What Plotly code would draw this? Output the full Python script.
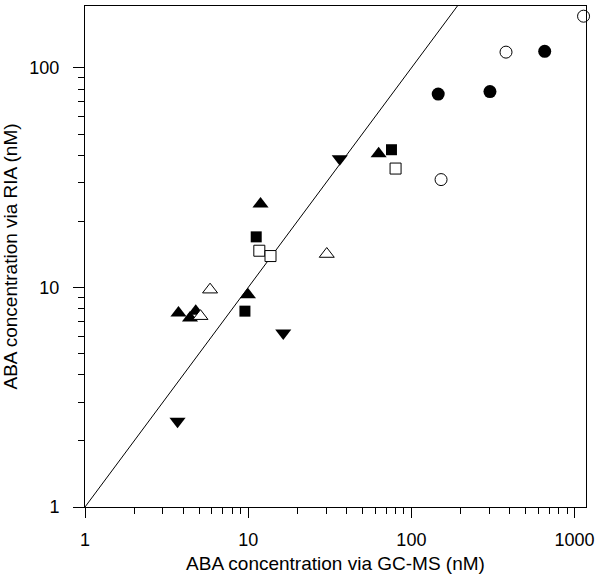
import plotly.graph_objects as go

# Data (GC-MS x, RIA y), nM
filled_circle_x = [146, 303, 656]
filled_circle_y = [76, 78, 119]
open_circle_x = [380, 1135, 152]
open_circle_y = [118, 172, 31]
filled_tri_up_x = [63, 11.9, 9.96, 3.74, 4.77, 4.4]
filled_tri_up_y = [40.6, 24, 9.27, 7.64, 7.8, 7.25]
open_tri_up_x = [30.3, 5.84, 5.1]
open_tri_up_y = [14.2, 9.77, 7.4]
filled_square_x = [75.5, 11.2, 9.55]
filled_square_y = [42.4, 17, 7.8]
open_square_x = [80, 11.7, 13.7]
open_square_y = [34.8, 14.7, 13.9]
filled_tri_down_x = [16.4, 3.69, 36.4]
filled_tri_down_y = [6.2, 2.46, 38.6]
line_x = [1, 2000]
line_y = [1, 2000]

tick_vals_x = [1, 10, 100, 1000]
tick_text_x = ["1", "10", "100", "1000"]
tick_vals_y = [1, 10, 100]
tick_text_y = ["1", "10", "100"]

minor_x = [m * d for d in (1, 10, 100, 1000) for m in range(2, 10) if m * d < 1200]
minor_y = [m * d for d in (1, 10, 100) for m in range(2, 10) if m * d < 200]

fig = go.Figure()
fig.add_trace(go.Scatter(x=line_x, y=line_y, mode="lines",
                         line=dict(color="black", width=1), hoverinfo="skip"))

def add(x, y, symbol, size, open_=False):
    if open_:
        marker = dict(symbol=symbol, size=size, color="white",
                      line=dict(color="black", width=1))
    else:
        marker = dict(symbol=symbol, size=size, color="black",
                      line=dict(color="black", width=0))
    fig.add_trace(go.Scatter(x=x, y=y, mode="markers", marker=marker, cliponaxis=False))

add(filled_circle_x, filled_circle_y, "circle", 13)
add(open_circle_x, open_circle_y, "circle", 12, True)
add(filled_tri_up_x, filled_tri_up_y, "triangle-up", 14)
add(open_tri_up_x, open_tri_up_y, "triangle-up", 13, True)
add(filled_square_x, filled_square_y, "square", 11)
add(open_square_x, open_square_y, "square", 11, True)
add(filled_tri_down_x, filled_tri_down_y, "triangle-down", 14)

# pad y tick labels with no-break spaces to push them away from the axis
pad = "\u00a0\u00a0"

font = "Liberation Sans, Arial, Helvetica, sans-serif"
fig.update_layout(
    width=600, height=583,
    margin=dict(l=85, r=10, t=5, b=76),
    plot_bgcolor="white", paper_bgcolor="white",
    showlegend=False,
    font=dict(family=font, size=18, color="black"),
    xaxis=dict(type="log", range=[0, 3.07], tickvals=tick_vals_x, ticktext=tick_text_x,
               ticks="outside", ticklen=10, tickwidth=1, tickcolor="black",
               minor=dict(tickvals=minor_x, ticks="outside", ticklen=6, tickcolor="black", showgrid=False),
               showline=True, linecolor="black", linewidth=1, mirror=True,
               showgrid=False, zeroline=False, ticklabelstandoff=6,
               title=dict(text="ABA concentration via GC-MS (nM)", standoff=8,
                          font=dict(size=19)),
               tickfont=dict(size=18)),
    yaxis=dict(type="log", range=[0, 2.282], tickvals=tick_vals_y,
               ticktext=[t + pad for t in tick_text_y],
               ticks="outside", ticklen=11, tickwidth=1, tickcolor="black",
               minor=dict(tickvals=minor_y, ticks="outside", ticklen=6, tickcolor="black", showgrid=False),
               showline=True, linecolor="black", linewidth=1, mirror=True,
               showgrid=False, zeroline=False,
               title=dict(text="ABA concentration via RIA (nM)", standoff=10,
                          font=dict(size=19)),
               tickfont=dict(size=18)),
)

fig.write_html("out.html", config={"displayModeBar": False},
               post_script="document.body.style.margin='0';")
